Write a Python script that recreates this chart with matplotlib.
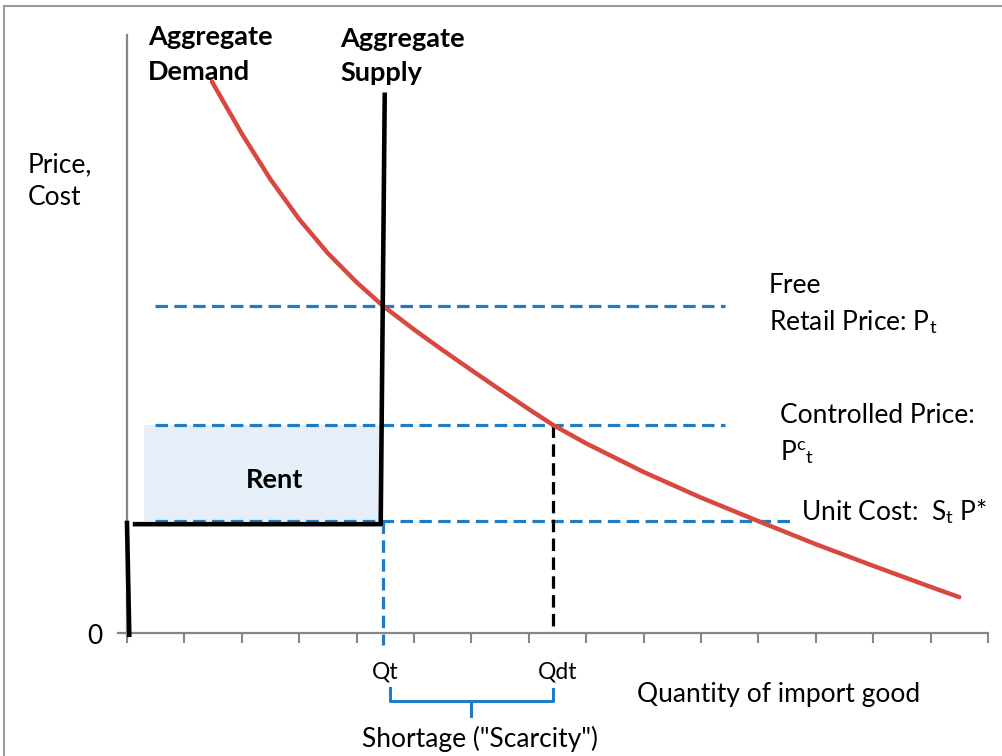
"""Import quota diagram: demand, fixed supply, rent and shortage."""

import matplotlib
matplotlib.use("Agg")
import matplotlib.pyplot as plt
from matplotlib.lines import Line2D

plt.rcParams["font.family"] = ["Lato", "DejaVu Sans"]
plt.rcParams["mathtext.fontset"] = "custom"
plt.rcParams["mathtext.rm"] = "Lato"
plt.rcParams["mathtext.it"] = "Lato:italic"

# demand curve (quantity, price)
demand_q = [1.48, 2.0, 2.5, 3.0, 3.5, 4.0, 4.46, 5.0, 5.5, 6.0, 6.5, 7.0,
            7.42, 8.0, 9.0, 10.0, 11.0, 12.0, 13.0, 14.0, 14.5]
demand_p = [92.2, 83.5, 75.85, 69.2, 63.5, 58.65, 54.7, 50.75, 47.3, 43.96,
            40.67, 37.43, 34.8, 31.7, 26.92, 22.64, 18.7, 14.85, 11.23, 7.71, 6.0]

# aggregate supply (quota): vertical at Qt, then flat at unit cost
supply_q = [4.49, 4.42, 0.14]
supply_p = [90.0, 18.2, 18.2]
stub_q = [0.0, 0.04]
stub_p = [18.4, -0.3]

# price levels and quantities
free_price = 54.7
controlled_price = 34.8
unit_cost = 18.7
qt = 4.46
qdt = 7.42
level_start = 0.49
level_end = [10.42, 10.42, 11.55]
rent_left = 0.30
rent_right = 4.41

W, H = 1003, 756
BLUE = "#1f7bc4"
RED = "#d9483f"
GRAY = "#878787"

fig = plt.figure(figsize=(W / 100, H / 100), dpi=100)
ax = fig.add_axes([127 / W, 1 - 633 / H, (988 - 127) / W, (633 - 35) / H])
ax.set_xlim(0, 15)
ax.set_ylim(0, 100)


def px(x, y):
    return x / W, 1 - y / H


# outer frame (top and left edges only visible)
fig.add_artist(Line2D([4 / W, 1], [1 - 6 / H, 1 - 6 / H], color="#9a9a9a", lw=1.5))
fig.add_artist(Line2D([4 / W, 4 / W], [0, 1 - 6 / H], color="#9a9a9a", lw=1.5))

# axes styling
for s in ["top", "right"]:
    ax.spines[s].set_visible(False)
for s in ["left", "bottom"]:
    ax.spines[s].set_color(GRAY)
    ax.spines[s].set_linewidth(1.6)
ax.spines["bottom"].set_bounds(-0.15, 15)
ax.set_xticks(range(16))
ax.set_xticklabels([])
ax.set_yticks([])
ax.tick_params(axis="x", direction="out", length=7, width=1.5, color=GRAY)

# rent rectangle
ax.fill_between([rent_left, rent_right], unit_cost, controlled_price,
                color="#e6eef7", lw=0, zorder=1)

# dashed price levels
dash = (3.9, 2.0)
for lvl, end in zip([free_price, controlled_price, unit_cost], level_end):
    ax.plot([level_start, end], [lvl, lvl], color=BLUE, lw=2.3,
            dashes=dash, zorder=2)

# vertical guides at Qt and Qdt
ax.plot([qt, qt], [unit_cost, -2], color=BLUE, lw=2.3, dashes=dash,
        clip_on=False, zorder=2)
ax.plot([qdt, qdt], [controlled_price, 0], color="black", lw=2.3,
        dashes=dash, zorder=2)

# demand and supply
ax.plot(demand_q, demand_p, color=RED, lw=3.2, solid_capstyle="round",
        solid_joinstyle="round", zorder=4)
ax.plot(supply_q, supply_p, color="black", lw=3.3, zorder=5)
ax.plot(stub_q, stub_p, color="black", lw=3.3, clip_on=False, zorder=5)

# shortage brace below the axis
brace_q = [qt + 0.12, qt + 0.12, qdt, qdt]
brace_p = [-9.2, -11.4, -11.4, -9.4]
ax.plot(brace_q, brace_p, color=BLUE, lw=2.2, clip_on=False,
        solid_joinstyle="round")
mid = (qt + 0.12 + qdt) / 2
ax.plot([mid, mid], [-11.4, -13.8], color=BLUE, lw=2.2, clip_on=False)

# text
fs = 19
bold_fs = 19.5
fig.text(*px(148, 45), "Aggregate", fontsize=bold_fs, weight="bold", va="baseline")
fig.text(*px(148, 80), "Demand", fontsize=bold_fs, weight="bold", va="baseline")
fig.text(*px(340, 47), "Aggregate", fontsize=bold_fs, weight="bold", va="baseline")
fig.text(*px(340, 81), "Supply", fontsize=bold_fs, weight="bold", va="baseline")
fig.text(*px(28, 172), "Price,", fontsize=fs, va="baseline")
fig.text(*px(28, 205), "Cost", fontsize=fs, va="baseline")
fig.text(*px(95, 644), "0", fontsize=fs, va="baseline", ha="center")
fig.text(*px(769, 293), "Free", fontsize=fs, va="baseline")
fig.text(*px(769, 330), r"Retail Price: P$_\mathrm{t}$", fontsize=fs, va="baseline")
fig.text(*px(780, 423), "Controlled Price:", fontsize=fs, va="baseline")
fig.text(*px(780, 460), r"P$^\mathrm{c}{}_\mathrm{t}$", fontsize=fs, va="baseline")
fig.text(*px(801, 520), r"Unit Cost:  S$_\mathrm{t}$ P*", fontsize=fs, va="baseline")
fig.text(*px(275, 488), "Rent", fontsize=bold_fs, weight="bold", va="baseline", ha="center")
fig.text(*px(385, 678), "Qt", fontsize=16.5, va="baseline", ha="center")
fig.text(*px(558, 678), "Qdt", fontsize=16.5, va="baseline", ha="center")
fig.text(*px(637, 702), "Quantity of import good", fontsize=fs, va="baseline")
fig.text(*px(362, 747), "Shortage (\"Scarcity\")", fontsize=fs, va="baseline")

fig.savefig("out.png", dpi=100)
